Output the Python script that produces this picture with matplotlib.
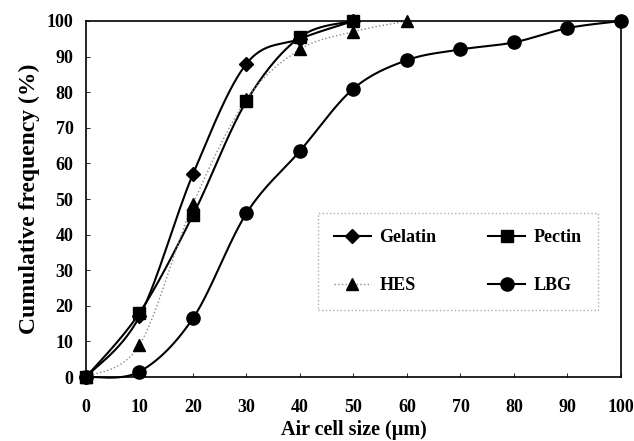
import numpy as np
import matplotlib
matplotlib.use("Agg")
import matplotlib.pyplot as plt

x_gel = [0, 10, 20, 30, 40, 50]
y_gel = [0, 17, 57, 88, 95, 100]
x_pec = [0, 10, 20, 30, 40, 50]
y_pec = [0, 18, 45.5, 77.5, 95.5, 100]
x_hes = [0, 10, 20, 30, 40, 50, 60]
y_hes = [0, 9, 48.5, 78, 92, 97, 100]
x_lbg = [0, 10, 20, 30, 40, 50, 60, 70, 80, 90, 100]
y_lbg = [0, 1.5, 16.5, 46, 63.5, 81, 89, 92, 94, 98, 100]

xticks = list(range(0, 101, 10))
yticks = list(range(0, 101, 10))


def smooth(xs, ys, n=30):
    """Catmull-Rom style smoothing similar to spreadsheet smoothed lines."""
    xs = np.asarray(xs, float)
    ys = np.asarray(ys, float)
    P = np.column_stack([xs, ys])
    pts = [P[0]] + list(P) + [P[-1]]
    out = []
    for i in range(1, len(pts) - 2):
        p0, p1, p2, p3 = pts[i - 1], pts[i], pts[i + 1], pts[i + 2]
        c1 = p1 + (p2 - p0) / 6.0
        c2 = p2 - (p3 - p1) / 6.0
        t = np.linspace(0, 1, n)[:, None]
        b = ((1 - t) ** 3) * p1 + 3 * ((1 - t) ** 2) * t * c1 + 3 * (1 - t) * t ** 2 * c2 + t ** 3 * p2
        out.append(b if i == 1 else b[1:])
    arr = np.vstack(out)
    return arr[:, 0], arr[:, 1]


plt.rcParams['font.family'] = ['Liberation Serif', 'DejaVu Serif']
plt.rcParams['font.weight'] = 'bold'

fig = plt.figure(figsize=(6.34, 4.41), dpi=100)
ax = fig.add_axes([0.1356, 0.1451, 0.8439, 0.8073])

series = [
    ("Gelatin", x_gel, y_gel, dict(color='black', lw=1.5, ls='-'), dict(marker='D', ms=7)),
    ("Pectin", x_pec, y_pec, dict(color='black', lw=1.5, ls='-'), dict(marker='s', ms=8.5)),
    ("HES", x_hes, y_hes, dict(color='#888888', lw=1.0, ls=':'), dict(marker='^', ms=8.5)),
    ("LBG", x_lbg, y_lbg, dict(color='black', lw=1.5, ls='-'), dict(marker='o', ms=9.5)),
]

handles = {}
for name, xs, ys, lst, mst in series:
    sx, sy = smooth(xs, ys)
    ax.plot(sx, sy, zorder=2, clip_on=False, **lst)
    ax.plot(xs, ys, ls='none', color='black', mec='black', mfc='black',
            zorder=3, clip_on=False, **mst)
    h, = ax.plot([], [], color=lst['color'], lw=lst['lw'], ls=lst['ls'],
                 mfc='black', mec='black', **mst)
    h.set_label(name)
    handles[name] = h

ax.set_xlim(0, 100)
ax.set_ylim(0, 100)
ax.set_xticks(xticks)
ax.set_yticks(yticks)
ax.tick_params(direction='in', length=3, width=0.6, labelsize=13)
ax.tick_params(axis='x', pad=16)
ax.tick_params(axis='y', pad=9)
for lab in ax.get_xticklabels() + ax.get_yticklabels():
    lab.set_fontweight('bold')
for s in ax.spines.values():
    s.set_linewidth(1.2)

ax.set_xlabel('Air cell size (μm)', fontsize=14.5, fontweight='bold', labelpad=3)
ax.set_ylabel('Cumulative frequency (%)', fontsize=17, fontweight='bold', labelpad=5)

order = ["Gelatin", "HES", "Pectin", "LBG"]
leg = ax.legend(handles=[handles[k] for k in order], loc='lower left', ncol=2,
                bbox_to_anchor=(0.434, 0.188, 0.523, 0.278), mode='expand',
                borderaxespad=0, frameon=True, fancybox=False,
                prop=dict(family='Liberation Serif', weight='bold', size=13),
                handlelength=2.0, labelspacing=1.7, borderpad=0.9,
                columnspacing=1.0, handletextpad=0.5)
fr = leg.get_frame()
fr.set_edgecolor('#999999')
fr.set_linestyle(':')
fr.set_linewidth(1.0)

fig.savefig('out.png', dpi=100)
